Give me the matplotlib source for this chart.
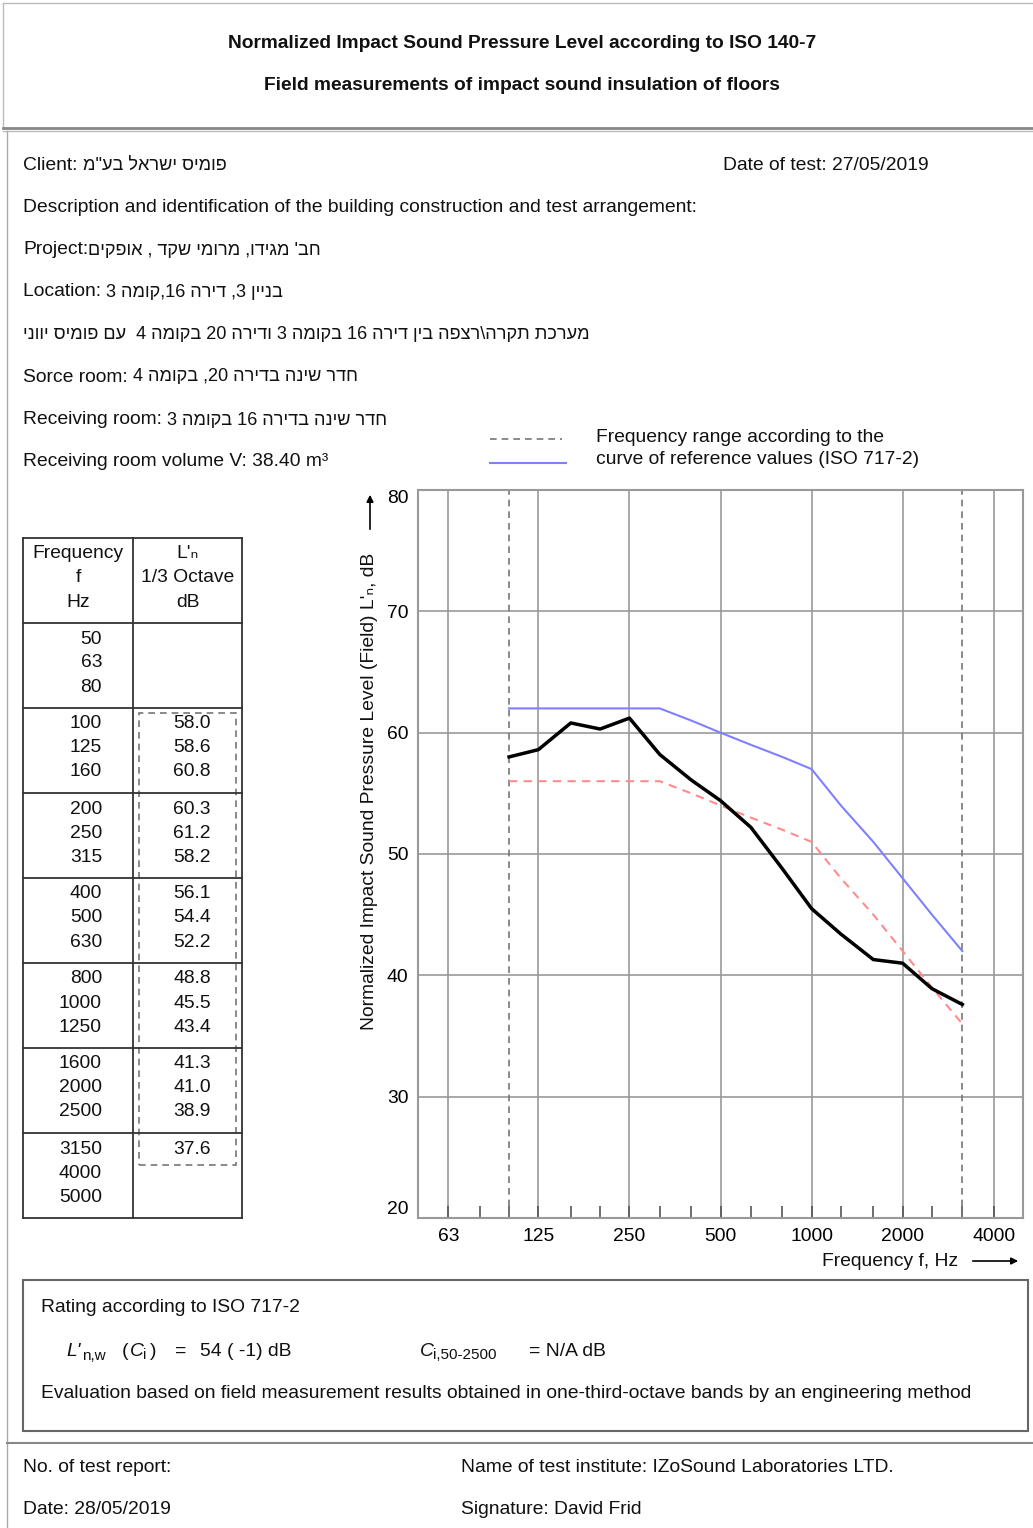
import re
import numpy as np
import matplotlib
matplotlib.use("Agg")
import matplotlib.pyplot as plt
from matplotlib.lines import Line2D
from matplotlib.patches import Rectangle

plt.rcParams['font.family'] = ['Liberation Sans', 'DejaVu Sans']

W, H = 1033, 1528

# data
table_freqs = [50, 63, 80, 100, 125, 160, 200, 250, 315, 400, 500, 630,
               800, 1000, 1250, 1600, 2000, 2500, 3150, 4000, 5000]
freqs = [100, 125, 160, 200, 250, 315, 400, 500, 630, 800, 1000, 1250,
         1600, 2000, 2500, 3150]
measured = [58.0, 58.6, 60.8, 60.3, 61.2, 58.2, 56.1, 54.4, 52.2, 48.8,
            45.5, 43.4, 41.3, 41.0, 38.9, 37.6]
reference = [62, 62, 62, 62, 62, 62, 61, 60, 59, 58, 57, 54, 51, 48, 45, 42]
shifted = [56, 56, 56, 56, 56, 56, 55, 54, 53, 52, 51, 48, 45, 42, 39, 36]
octave_ticks = [63, 125, 250, 500, 1000, 2000, 4000]
third_ticks = [80, 100, 160, 200, 315, 400, 630, 800, 1250, 1600, 2500, 3150]
y_ticks = [20, 30, 40, 50, 60, 70, 80]

FS = 13.9
FS_HEB = 13.1


def fx(x):
    return x / W


def fy(y):
    return 1 - y / H


def heb(s):
    # visual order for hebrew text, digits stay left to right
    r = s[::-1]
    return re.sub(r'\d+', lambda m: m.group(0)[::-1], r)


def hline(x0, x1, y, **kw):
    fig.add_artist(Line2D([fx(x0), fx(x1)], [fy(y), fy(y)], transform=fig.transFigure, **kw))


def vline(x, y0, y1, **kw):
    fig.add_artist(Line2D([fx(x), fx(x)], [fy(y0), fy(y1)], transform=fig.transFigure, **kw))


def txt(x, y, s, **kw):
    kw.setdefault('fontsize', FS)
    kw.setdefault('va', 'center')
    kw.setdefault('color', '#111111')
    return fig.text(fx(x), fy(y), s, **kw)


def mixed(x, y, prefix, hebrew):
    # english label followed by hebrew text in a slightly smaller size
    if prefix:
        t = txt(x, y, prefix)
        bb = t.get_window_extent(renderer=renderer)
        x = bb.x1
    txt(x, y, heb(hebrew), fontsize=FS_HEB)


fig = plt.figure(figsize=(W / 100, H / 100), dpi=100)
renderer = fig.canvas.get_renderer()

# page frame
hline(3, 1033, 3, color='#bbbbbb', lw=1)
vline(3, 3, 128, color='#bbbbbb', lw=1)
hline(3, 1033, 128, color='#888888', lw=2)
hline(3, 1033, 131, color='#bbbbbb', lw=1)
vline(7, 131, 1528, color='#aaaaaa', lw=1)
hline(7, 1033, 1443, color='#888888', lw=1.5)

txt(522, 44, "Normalized Impact Sound Pressure Level according to ISO 140-7",
    ha='center', fontweight='bold', fontsize=13.8)
txt(522, 86, "Field measurements of impact sound insulation of floors",
    ha='center', fontweight='bold', fontsize=13.8)

mixed(23, 165, "Client: ", 'פומיס ישראל בע"מ')
txt(723, 165, "Date of test: 27/05/2019")
txt(23, 207, "Description and identification of the building construction and test arrangement:")
mixed(23, 250, "Project:", "חב' מגידו, מרומי שקד , אופקים")
mixed(23, 292, "Location: ", "בניין 3, דירה 16,קומה 3")
mixed(23, 335, "", "מערכת תקרה\\רצפה בין דירה 16 בקומה 3 ודירה 20 בקומה 4  עם פומיס יווני")
mixed(23, 377, "Sorce room: ", "חדר שינה בדירה 20, בקומה 4")
mixed(23, 420, "Receiving room: ", "חדר שינה בדירה 16 בקומה 3")
txt(23, 462, "Receiving room volume V: 38.40 m³")

# legend
hline(490, 562, 439, color='#777777', lw=1.2, ls=(0, (4, 3)))
hline(490, 566, 463, color='#8080ff', lw=1.5)
txt(596, 438, "Frequency range according to the")
txt(596, 460, "curve of reference values (ISO 717-2)")

# table
tl, tm, tr = 23, 133, 242
rows = [538, 623, 708, 793, 878, 963, 1048, 1133, 1218]
for y in rows:
    hline(tl, tr, y, color='#333333', lw=1.3)
for x in [tl, tm, tr]:
    vline(x, rows[0], rows[-1], color='#333333', lw=1.3)
txt(78, 554, "Frequency", ha='center')
txt(78, 578, "f", ha='center')
txt(78, 602, "Hz", ha='center')
txt(188, 554, "L'ₙ", ha='center')
txt(188, 578, "1/3 Octave", ha='center')
txt(188, 602, "dB", ha='center')
for i, f in enumerate(table_freqs):
    y = 639 + (i // 3) * 85 + (i % 3) * 24
    txt(102, y, str(f), ha='right')
for i, v in enumerate(measured):
    j = i + 3
    y = 639 + (j // 3) * 85 + (j % 3) * 24
    txt(192, y, "%.1f" % v, ha='center')
fig.add_artist(Rectangle((fx(139), fy(1165)), fx(236) - fx(139), fy(713) - fy(1165),
                         transform=fig.transFigure, fill=False, ec='#777777', lw=1.2,
                         ls=(0, (4, 3))))

# chart
ax = fig.add_axes([fx(418), fy(1218), fx(1023) - fx(418), fy(490) - fy(1218)])
ax.set_xscale('log')
ax.set_xlim(50, 5000)
ax.set_ylim(20, 80)
for f in octave_ticks:
    ax.axvline(f, color='#999999', lw=1.2, zorder=1)
for v in y_ticks[1:-1]:
    ax.axhline(v, color='#999999', lw=1.2, zorder=1)
ax.axvline(100, color='#777777', lw=1.2, ls=(0, (4, 3)), zorder=2)
ax.axvline(3150, color='#777777', lw=1.2, ls=(0, (4, 3)), zorder=2)
ax.plot(freqs, reference, color='#8080ff', lw=1.5, zorder=3)
ax.plot(freqs, shifted, color='#ff8c8c', lw=1.5, ls=(0, (4, 3)), zorder=3)
ax.plot(freqs, measured, color='black', lw=2.5, zorder=4)

ax.set_xticks(octave_ticks)
ax.set_xticklabels([str(f) for f in octave_ticks])
ax.set_xticks(third_ticks, minor=True)
ax.set_xticklabels([], minor=True)
ax.tick_params(axis='x', which='both', direction='in', length=9, width=1.2,
               color='#555555', labelsize=FS, pad=7)
ax.set_yticks(y_ticks)
ax.tick_params(axis='y', length=0, labelsize=FS, pad=7)
labels = ax.get_yticklabels()
labels[0].set_va('bottom')
labels[-1].set_va('top')
for s in ax.spines.values():
    s.set_color('#999999')
    s.set_linewidth(1.5)

txt(370, 791, "Normalized Impact Sound Pressure Level (Field) L'ₙ, dB",
    ha='center', rotation=90)
ax.annotate('', xy=(370, H - 492), xytext=(370, H - 532), xycoords='figure pixels',
            arrowprops=dict(arrowstyle='-|>', color='black', lw=1.2))
txt(958, 1261, "Frequency f, Hz", ha='right')
ax.annotate('', xy=(1021, H - 1261), xytext=(970, H - 1261), xycoords='figure pixels',
            arrowprops=dict(arrowstyle='-|>', color='black', lw=1.2))

# rating box
fig.add_artist(Rectangle((fx(23), fy(1431)), fx(1028) - fx(23), fy(1280) - fy(1431),
                         transform=fig.transFigure, fill=False, ec='#666666', lw=1.5))
txt(41, 1308, "Rating according to ISO 717-2")
txt(66, 1351, "L'", style='italic')
txt(82, 1356, "n,w", fontsize=11)
txt(122, 1351, "(")
txt(130, 1351, "C", style='italic')
txt(143, 1355, "i", fontsize=10.5)
txt(150, 1351, ")")
txt(175, 1351, "=")
txt(200, 1351, "54 ( -1) dB")
txt(420, 1351, "C", style='italic')
txt(433, 1355, "i,50-2500", fontsize=11)
txt(529, 1351, "= N/A dB")
txt(41, 1393, "Evaluation based on field measurement results obtained in one-third-octave bands by an engineering method")

# footer
txt(23, 1467, "No. of test report:")
txt(23, 1509, "Date: 28/05/2019")
txt(461, 1467, "Name of test institute: IZoSound Laboratories LTD.")
txt(461, 1509, "Signature: David Frid")

plt.savefig("out.png", dpi=100)
